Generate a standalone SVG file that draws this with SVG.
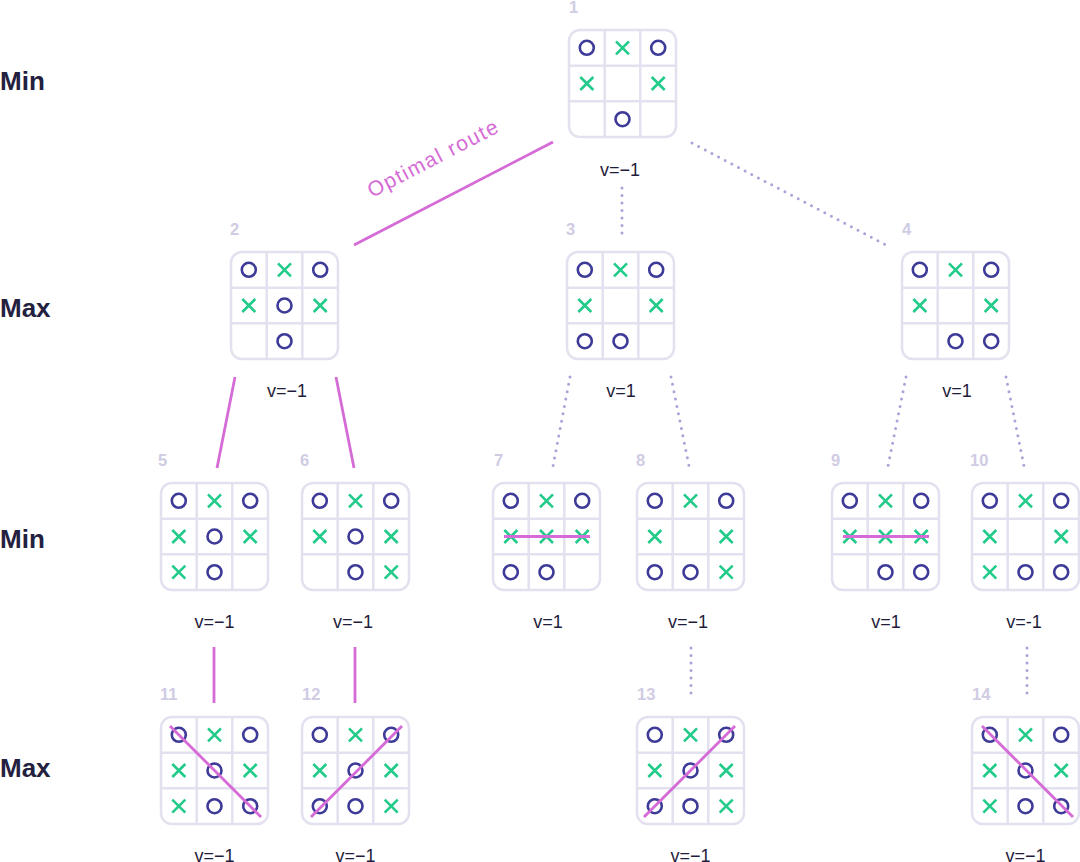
<svg xmlns="http://www.w3.org/2000/svg" xmlns:xlink="http://www.w3.org/1999/xlink" width="1080" height="862" viewBox="0 0 1080 862">
<style>
.grid{fill:#ffffff;stroke:#e3e1ef;stroke-width:2.5}
.o{fill:none;stroke:#3e3a98;stroke-width:2.6}
.x{fill:none;stroke:#22cb89;stroke-width:2.6;stroke-linecap:butt}
.win{stroke:#d56bd6;stroke-width:2.8;fill:none}
.solid{stroke:#d56bd6;stroke-width:2.8;fill:none}
.dot{stroke:#a9a4d8;stroke-width:3;stroke-dasharray:0 7.5;stroke-linecap:round;fill:none}
.num{font-family:"Liberation Sans",Arial,sans-serif;font-weight:bold;font-size:16.5px;fill:#cfcce3}
.val{font-family:"Liberation Sans",Arial,sans-serif;font-size:18px;fill:#1f1d3b;text-anchor:middle}
.lvl{font-family:"Liberation Sans",Arial,sans-serif;font-weight:bold;font-size:26px;fill:#23213f}
.route{font-family:"Liberation Sans",Arial,sans-serif;font-size:21px;fill:#d56bd6}
</style>
<defs>
<g id="grid">
<rect class="grid" x="0" y="0" width="107" height="107" rx="11"/>
<path class="grid" d="M35.7,0V107M71.3,0V107M0,35.7H107M0,71.3H107"/>
</g>
<circle id="O" class="o" cx="0" cy="0" r="7"/>
<path id="X" class="x" d="M-6.5,-6.5L6.5,6.5M6.5,-6.5L-6.5,6.5"/>
</defs>
<rect width="1080" height="862" fill="#ffffff"/>

<g id="levels">
<text class="lvl" x="0" y="90">Min</text>
<text class="lvl" x="0" y="317">Max</text>
<text class="lvl" x="0" y="548">Min</text>
<text class="lvl" x="0" y="777">Max</text>
</g>

<g id="connectors">
<line class="solid" x1="553" y1="142" x2="354" y2="245"/>
<text class="route" transform="translate(372,198) rotate(-27.4)" textLength="144">Optimal route</text>
<line class="dot" x1="622" y1="188" x2="622" y2="236"/>
<line class="dot" x1="692" y1="143" x2="888" y2="246"/>
<line class="solid" x1="235" y1="377" x2="217" y2="468"/>
<line class="solid" x1="336" y1="377" x2="354" y2="468"/>
<line class="dot" x1="570" y1="377" x2="553" y2="466"/>
<line class="dot" x1="671" y1="377" x2="689" y2="466"/>
<line class="dot" x1="906" y1="377" x2="888" y2="466"/>
<line class="dot" x1="1006" y1="377" x2="1024" y2="466"/>
<line class="solid" x1="214" y1="647" x2="214" y2="703"/>
<line class="solid" x1="355" y1="647" x2="355" y2="703"/>
<line class="dot" x1="691" y1="648" x2="691" y2="700"/>
<line class="dot" x1="1027" y1="648" x2="1027" y2="700"/>
</g>

<g id="node-1" transform="translate(569,30)">
<use xlink:href="#grid" href="#grid"/>
<use href="#O" x="17.8" y="17.8"/><use href="#X" x="53.5" y="17.8"/><use href="#O" x="89.2" y="17.8"/>
<use href="#X" x="17.8" y="53.5"/><use href="#X" x="89.2" y="53.5"/>
<use href="#O" x="53.5" y="89.2"/>
<text class="num" x="0" y="-17">1</text>
<text class="val" x="51" y="146">v=−1</text>
</g>

<g id="node-2" transform="translate(231,252)">
<use href="#grid"/>
<use href="#O" x="17.8" y="17.8"/><use href="#X" x="53.5" y="17.8"/><use href="#O" x="89.2" y="17.8"/>
<use href="#X" x="17.8" y="53.5"/><use href="#O" x="53.5" y="53.5"/><use href="#X" x="89.2" y="53.5"/>
<use href="#O" x="53.5" y="89.2"/>
<text class="num" x="-1" y="-17">2</text>
<text class="val" x="56" y="145">v=−1</text>
</g>

<g id="node-3" transform="translate(567,252)">
<use href="#grid"/>
<use href="#O" x="17.8" y="17.8"/><use href="#X" x="53.5" y="17.8"/><use href="#O" x="89.2" y="17.8"/>
<use href="#X" x="17.8" y="53.5"/><use href="#X" x="89.2" y="53.5"/>
<use href="#O" x="17.8" y="89.2"/><use href="#O" x="53.5" y="89.2"/>
<text class="num" x="-1" y="-17">3</text>
<text class="val" x="54" y="145">v=1</text>
</g>

<g id="node-4" transform="translate(902,252)">
<use href="#grid"/>
<use href="#O" x="17.8" y="17.8"/><use href="#X" x="53.5" y="17.8"/><use href="#O" x="89.2" y="17.8"/>
<use href="#X" x="17.8" y="53.5"/><use href="#X" x="89.2" y="53.5"/>
<use href="#O" x="53.5" y="89.2"/><use href="#O" x="89.2" y="89.2"/>
<text class="num" x="0" y="-17">4</text>
<text class="val" x="55" y="145">v=1</text>
</g>

<g id="node-5" transform="translate(161,483)">
<use href="#grid"/>
<use href="#O" x="17.8" y="17.8"/><use href="#X" x="53.5" y="17.8"/><use href="#O" x="89.2" y="17.8"/>
<use href="#X" x="17.8" y="53.5"/><use href="#O" x="53.5" y="53.5"/><use href="#X" x="89.2" y="53.5"/>
<use href="#X" x="17.8" y="89.2"/><use href="#O" x="53.5" y="89.2"/>
<text class="num" x="-3" y="-17">5</text>
<text class="val" x="53.5" y="145">v=−1</text>
</g>

<g id="node-6" transform="translate(302,483)">
<use href="#grid"/>
<use href="#O" x="17.8" y="17.8"/><use href="#X" x="53.5" y="17.8"/><use href="#O" x="89.2" y="17.8"/>
<use href="#X" x="17.8" y="53.5"/><use href="#O" x="53.5" y="53.5"/><use href="#X" x="89.2" y="53.5"/>
<use href="#O" x="53.5" y="89.2"/><use href="#X" x="89.2" y="89.2"/>
<text class="num" x="-2" y="-17">6</text>
<text class="val" x="51" y="145">v=−1</text>
</g>

<g id="node-7" transform="translate(493,483)">
<use href="#grid"/>
<use href="#O" x="17.8" y="17.8"/><use href="#X" x="53.5" y="17.8"/><use href="#O" x="89.2" y="17.8"/>
<use href="#X" x="17.8" y="53.5"/><use href="#X" x="53.5" y="53.5"/><use href="#X" x="89.2" y="53.5"/>
<use href="#O" x="17.8" y="89.2"/><use href="#O" x="53.5" y="89.2"/>
<line class="win" x1="11" y1="53.5" x2="97" y2="53.5"/>
<text class="num" x="1" y="-17">7</text>
<text class="val" x="55" y="145">v=1</text>
</g>

<g id="node-8" transform="translate(637,483)">
<use href="#grid"/>
<use href="#O" x="17.8" y="17.8"/><use href="#X" x="53.5" y="17.8"/><use href="#O" x="89.2" y="17.8"/>
<use href="#X" x="17.8" y="53.5"/><use href="#X" x="89.2" y="53.5"/>
<use href="#O" x="17.8" y="89.2"/><use href="#O" x="53.5" y="89.2"/><use href="#X" x="89.2" y="89.2"/>
<text class="num" x="-1" y="-17">8</text>
<text class="val" x="51" y="145">v=−1</text>
</g>

<g id="node-9" transform="translate(832,483)">
<use href="#grid"/>
<use href="#O" x="17.8" y="17.8"/><use href="#X" x="53.5" y="17.8"/><use href="#O" x="89.2" y="17.8"/>
<use href="#X" x="17.8" y="53.5"/><use href="#X" x="53.5" y="53.5"/><use href="#X" x="89.2" y="53.5"/>
<use href="#O" x="53.5" y="89.2"/><use href="#O" x="89.2" y="89.2"/>
<line class="win" x1="11" y1="53.5" x2="97" y2="53.5"/>
<text class="num" x="-1" y="-17">9</text>
<text class="val" x="54" y="145">v=1</text>
</g>

<g id="node-10" transform="translate(972,483)">
<use href="#grid"/>
<use href="#O" x="17.8" y="17.8"/><use href="#X" x="53.5" y="17.8"/><use href="#O" x="89.2" y="17.8"/>
<use href="#X" x="17.8" y="53.5"/><use href="#X" x="89.2" y="53.5"/>
<use href="#X" x="17.8" y="89.2"/><use href="#O" x="53.5" y="89.2"/><use href="#O" x="89.2" y="89.2"/>
<text class="num" x="-2" y="-17">10</text>
<text class="val" x="52" y="145">v=-1</text>
</g>

<g id="node-11" transform="translate(161,717)">
<use href="#grid"/>
<use href="#O" x="17.8" y="17.8"/><use href="#X" x="53.5" y="17.8"/><use href="#O" x="89.2" y="17.8"/>
<use href="#X" x="17.8" y="53.5"/><use href="#O" x="53.5" y="53.5"/><use href="#X" x="89.2" y="53.5"/>
<use href="#X" x="17.8" y="89.2"/><use href="#O" x="53.5" y="89.2"/><use href="#O" x="89.2" y="89.2"/>
<line class="win" x1="9" y1="9" x2="100" y2="100"/>
<text class="num" x="-1" y="-17">11</text>
<text class="val" x="53.5" y="145">v=−1</text>
</g>

<g id="node-12" transform="translate(302,717)">
<use href="#grid"/>
<use href="#O" x="17.8" y="17.8"/><use href="#X" x="53.5" y="17.8"/><use href="#O" x="89.2" y="17.8"/>
<use href="#X" x="17.8" y="53.5"/><use href="#O" x="53.5" y="53.5"/><use href="#X" x="89.2" y="53.5"/>
<use href="#O" x="17.8" y="89.2"/><use href="#O" x="53.5" y="89.2"/><use href="#X" x="89.2" y="89.2"/>
<line class="win" x1="9" y1="100" x2="100" y2="9"/>
<text class="num" x="0" y="-17">12</text>
<text class="val" x="53.5" y="145">v=−1</text>
</g>

<g id="node-13" transform="translate(637,717)">
<use href="#grid"/>
<use href="#O" x="17.8" y="17.8"/><use href="#X" x="53.5" y="17.8"/><use href="#O" x="89.2" y="17.8"/>
<use href="#X" x="17.8" y="53.5"/><use href="#O" x="53.5" y="53.5"/><use href="#X" x="89.2" y="53.5"/>
<use href="#O" x="17.8" y="89.2"/><use href="#O" x="53.5" y="89.2"/><use href="#X" x="89.2" y="89.2"/>
<line class="win" x1="7" y1="100" x2="98" y2="9"/>
<text class="num" x="0" y="-17">13</text>
<text class="val" x="53.5" y="145">v=−1</text>
</g>

<g id="node-14" transform="translate(972,717)">
<use href="#grid"/>
<use href="#O" x="17.8" y="17.8"/><use href="#X" x="53.5" y="17.8"/><use href="#O" x="89.2" y="17.8"/>
<use href="#X" x="17.8" y="53.5"/><use href="#O" x="53.5" y="53.5"/><use href="#X" x="89.2" y="53.5"/>
<use href="#X" x="17.8" y="89.2"/><use href="#O" x="53.5" y="89.2"/><use href="#O" x="89.2" y="89.2"/>
<line class="win" x1="10" y1="9" x2="101" y2="100"/>
<text class="num" x="0" y="-17">14</text>
<text class="val" x="53.5" y="145">v=−1</text>
</g>
</svg>
